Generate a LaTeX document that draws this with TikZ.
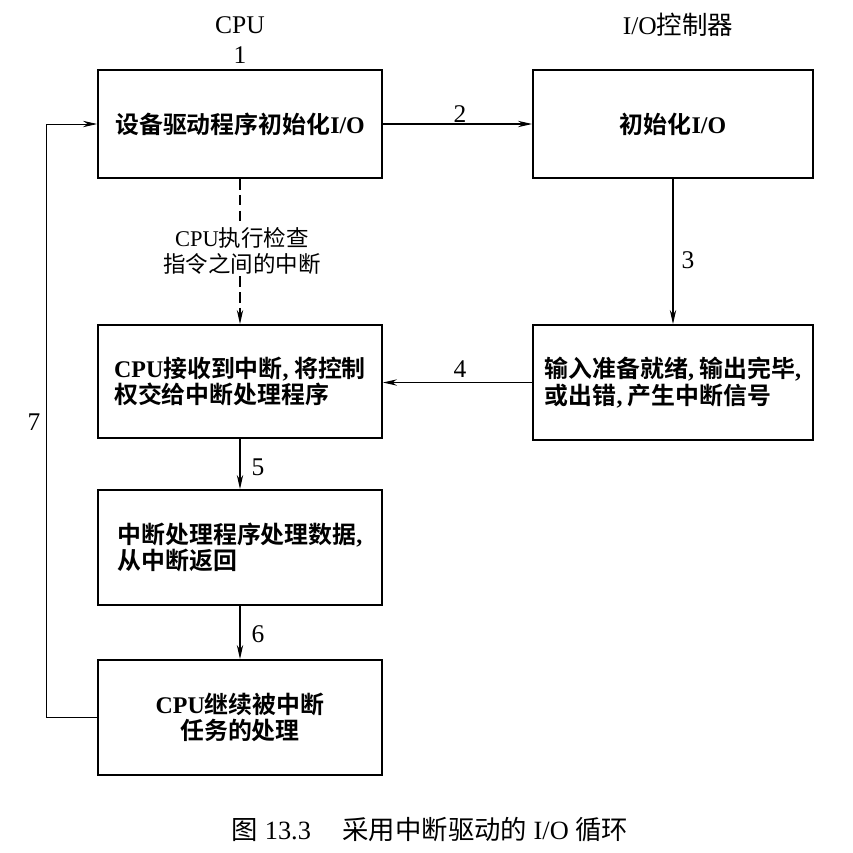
\documentclass[tikz,border=0pt]{standalone}
\usepackage{fontspec}
\setmainfont{Liberation Serif}
\newfontfamily\cjk{Noto Sans CJK SC}[BoldFont={Noto Sans CJK SC Bold}]
\usetikzlibrary{arrows.meta}
\newcommand{\en}[1]{{\rmfamily #1}}

\begin{document}
\begin{tikzpicture}[x=0.02cm,y=-0.02cm,
    box/.style={draw,line width=1.1pt,minimum width=5.68cm,minimum height=2.2cm,
      align=center,font=\cjk\bfseries\fontsize{13.6}{15}\selectfont},
    flow/.style={line width=0.6pt,-{Stealth[length=8pt,width=3.6pt]}},
    num/.style={font=\fontsize{14.5}{16}\selectfont}]
    \useasboundingbox (0,0) rectangle (853,853);

    % column titles
    \node[num] (cpu) at (240,25) {CPU};
    \node[num] (ioc) at (678,25) {I/O{\cjk 控制器}};

    % boxes
    \node[box,minimum height=2.16cm] (init) at (240,124) {设备驱动程序初始化\en{I/O}};
    \node[box,minimum width=5.6cm,minimum height=2.16cm] (ioinit) at (673,124) {初始化\en{I/O}};
    \node[box,align=left,minimum height=2.26cm] (recv) at (240,381.5)
      {\en{CPU}接收到中断\en{,} 将控制\\权交给中断处理程序};
    \node[box,align=left,minimum width=5.6cm,minimum height=2.3cm] (sig) at (673,382.5)
      {输入准备就绪\en{,} 输出完毕\en{,}\\或出错\en{,} 产生中断信号};
    \node[box,align=left,minimum height=2.3cm] (handle) at (240,547.5)
      {中断处理程序处理数据\en{,}\\从中断返回};
    \node[box,minimum height=2.3cm] (tsk) at (240,717.5)
      {\en{CPU}继续被中断\\任务的处理};

    % dashed check
    \node[align=center,fill=white,inner sep=1pt,font=\cjk\fontsize{12.8}{14.5}\selectfont] (chk) at (242,251)
      {\en{CPU}执行检查\\指令之间的中断};
    \draw[line width=0.6pt,dash pattern=on 6pt off 3pt] (init.south) -- (init.south |- chk.north);
    \draw[flow,dash pattern=on 6pt off 3pt] (recv.north |- chk.south) -- (recv.north);

    % arrows
    \draw[flow] (init.east) -- (ioinit.west);
    \draw[flow] (ioinit.south) -- (sig.north);
    \draw[flow] (sig.west) -- (sig.west -| recv.east);
    \draw[flow] (recv.south) -- (handle.north);
    \draw[flow] (handle.south) -- (tsk.north);
    \coordinate (back) at (46,420);
    \draw[flow,line width=0.45pt] (tsk.west) -- (tsk.west -| back) |- (init.west);

    % step numbers
    \node[num] (n1) at (240,55) {1};
    \node[num] (n2) at (460,114) {2};
    \node[num] (n3) at (688,260) {3};
    \node[num] (n4) at (460,369) {4};
    \node[num] (n5) at (258,467) {5};
    \node[num] (n6) at (258,634) {6};
    \node[num] (n7) at (34,422) {7};

    % caption
    \node[font=\fontsize{15}{17}\selectfont] (cap) at (430,830) {{\cjk 图} 13.3\hspace{1.2em}{\cjk 采用中断驱动的} I/O {\cjk 循环}};
  \end{tikzpicture}
\end{document}
